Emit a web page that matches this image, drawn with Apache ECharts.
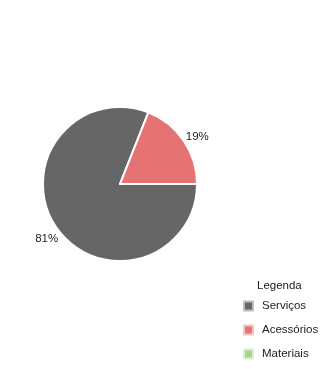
<!DOCTYPE html>
<html><head><meta charset="utf-8">
<script src="https://cdn.jsdelivr.net/npm/echarts@6/dist/echarts.min.js"></script>
<style>html,body{margin:0;padding:0;background:#fff}#c{width:321px;height:369px}</style>
</head><body><div id="c"></div>
<script>
const categories = ['Serviços', 'Acessórios', 'Materiais'];
const values = [81, 19, 0];
const colors = ['#666666', '#e57373', '#a5d68f'];
const borders = ['#bdbdbd', '#f5c4c4', '#dcefd3'];
const legendTitle = 'Legenda';

const chart = echarts.init(document.getElementById('c'));
chart.setOption({
  animation: false,
  color: colors,
  textStyle: { fontFamily: 'Liberation Sans, Arial, sans-serif' },
  title: {
    text: legendTitle, left: 257, top: 280, padding: 0,
    textStyle: { fontSize: 11.5, fontWeight: 'normal', color: '#222' }
  },
  legend: {
    orient: 'vertical', left: 243, top: 300, padding: 0, height: 80,
    itemWidth: 9, itemHeight: 9, itemGap: 12,
    icon: 'rect',
    textStyle: { fontSize: 11.5, color: '#222', padding: [0, 0, 0, 4] },
    data: categories.map((n, i) => ({ name: n, itemStyle: { borderColor: borders[i], borderWidth: 2 } }))
  },
  series: [{
    type: 'pie',
    center: [120, 184],
    radius: 77,
    startAngle: 0,
    clockwise: true,
    minShowLabelAngle: 1,
    avoidLabelOverlap: false,
    itemStyle: { borderColor: '#fff', borderWidth: 2 },
    label: {
      show: true, position: 'outside', formatter: '{d}%',
      fontSize: 11.5, color: '#222', distanceToLabelLine: 0
    },
    labelLine: { show: false, length: 14, length2: 0 },
    labelLayout: { align: 'center', verticalAlign: 'middle', dx: 2, dy: 4 },
    emphasis: { disabled: true },
    data: categories.map((n, i) => ({ name: n, value: values[i] }))
  }]
});
</script></body></html>
